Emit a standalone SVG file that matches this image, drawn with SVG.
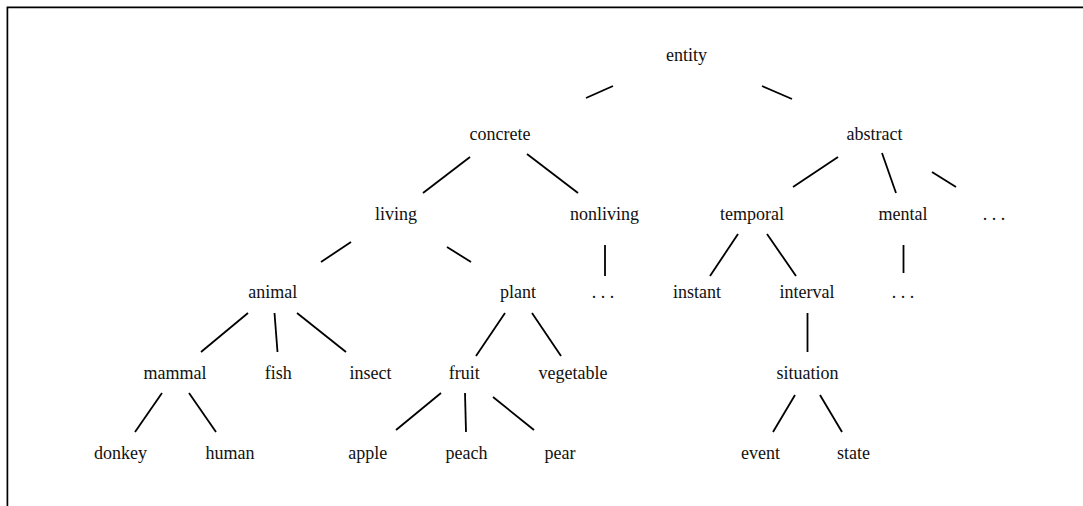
<svg xmlns="http://www.w3.org/2000/svg" width="1083" height="506" viewBox="0 0 1083 506">
<style>
text{font-family:"Liberation Serif","Times New Roman",serif;font-size:18px;fill:#111;text-anchor:middle}
.e line{stroke:#000;stroke-width:1.8;stroke-linecap:butt}
</style>
<rect width="1083" height="506" fill="#fff"/>
<path d="M7.4,506 V7.4 H1083" fill="none" stroke="#000" stroke-width="1.7"/>
<g class="e" id="connectors">
<line x1="613" y1="86" x2="586" y2="98"/>
<line x1="762" y1="86" x2="792" y2="99"/>
<line x1="470" y1="157" x2="423" y2="193"/>
<line x1="527" y1="154" x2="578" y2="193"/>
<line x1="838" y1="157" x2="793" y2="187"/>
<line x1="882" y1="153" x2="896" y2="193"/>
<line x1="932" y1="172" x2="956" y2="187"/>
<line x1="351" y1="242" x2="321" y2="262"/>
<line x1="447" y1="247" x2="471" y2="262"/>
<line x1="605" y1="245" x2="605" y2="276"/>
<line x1="738" y1="234" x2="710" y2="276"/>
<line x1="767" y1="234" x2="796" y2="276"/>
<line x1="903.5" y1="245" x2="903.5" y2="273"/>
<line x1="248" y1="313" x2="201" y2="352"/>
<line x1="274.5" y1="313" x2="277.5" y2="352"/>
<line x1="297" y1="313" x2="346" y2="352"/>
<line x1="505" y1="313" x2="476" y2="356"/>
<line x1="532" y1="313" x2="561" y2="356"/>
<line x1="807.5" y1="313" x2="807.5" y2="352"/>
<line x1="162" y1="393" x2="135" y2="432"/>
<line x1="189" y1="393" x2="216" y2="432"/>
<line x1="441" y1="393" x2="396" y2="430"/>
<line x1="465" y1="393" x2="466" y2="432"/>
<line x1="493" y1="397" x2="534" y2="430"/>
<line x1="795" y1="395" x2="773" y2="432"/>
<line x1="820" y1="395" x2="842" y2="432"/>
</g>
<g id="n-entity"><text x="686.5" y="61">entity</text></g>
<g id="n-concrete"><text x="500" y="140">concrete</text></g>
<g id="n-abstract"><text x="874.5" y="140">abstract</text></g>
<g id="n-living"><text x="396" y="220">living</text></g>
<g id="n-nonliving"><text x="604.5" y="220">nonliving</text></g>
<g id="n-temporal"><text x="752" y="220">temporal</text></g>
<g id="n-mental"><text x="903" y="220">mental</text></g>
<g id="n-abstract-more"><text x="994" y="220">. . .</text></g>
<g id="n-animal"><text x="272.7" y="298">animal</text></g>
<g id="n-plant"><text x="518" y="298">plant</text></g>
<g id="n-nonliving-more"><text x="603" y="298">. . .</text></g>
<g id="n-instant"><text x="697" y="298">instant</text></g>
<g id="n-interval"><text x="807" y="298">interval</text></g>
<g id="n-mental-more"><text x="903" y="298">. . .</text></g>
<g id="n-mammal"><text x="175" y="379">mammal</text></g>
<g id="n-fish"><text x="278.3" y="379">fish</text></g>
<g id="n-insect"><text x="370.5" y="379">insect</text></g>
<g id="n-fruit"><text x="464.3" y="379">fruit</text></g>
<g id="n-vegetable"><text x="573" y="379">vegetable</text></g>
<g id="n-situation"><text x="807.5" y="379">situation</text></g>
<g id="n-donkey"><text x="120.5" y="459">donkey</text></g>
<g id="n-human"><text x="230" y="459">human</text></g>
<g id="n-apple"><text x="367.8" y="459">apple</text></g>
<g id="n-peach"><text x="466.5" y="459">peach</text></g>
<g id="n-pear"><text x="560" y="459">pear</text></g>
<g id="n-event"><text x="760.5" y="459">event</text></g>
<g id="n-state"><text x="853.5" y="459">state</text></g>
</svg>
